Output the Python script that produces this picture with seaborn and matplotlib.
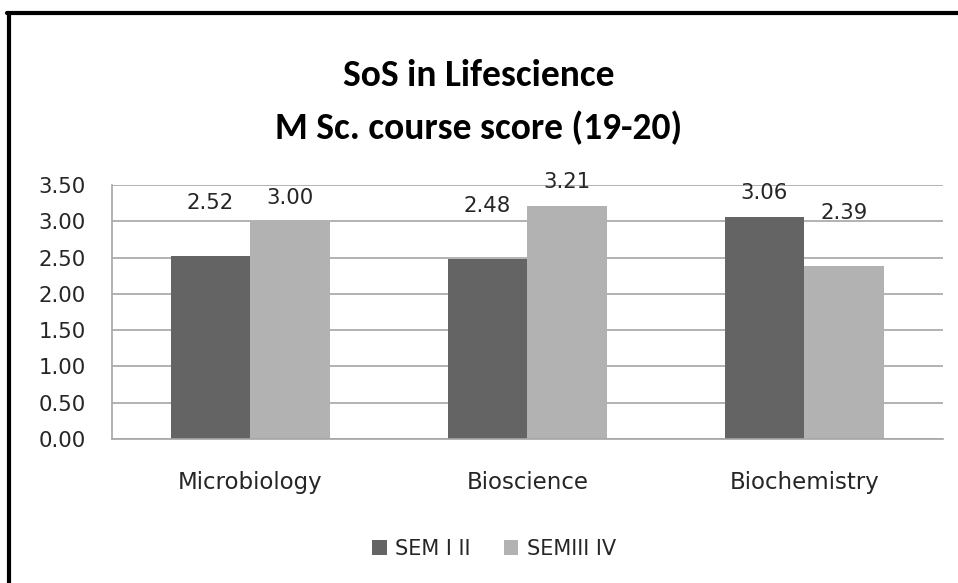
import pandas as pd
import matplotlib.pyplot as plt
from matplotlib.lines import Line2D
import seaborn as sns

# data
courses = ["Microbiology", "Bioscience", "Biochemistry"]
sem_names = ["SEM I II", "SEMIII IV"]
sem_1_2 = [2.52, 2.48, 3.06]
sem_3_4 = [3.00, 3.21, 2.39]
yticks = [0.0, 0.5, 1.0, 1.5, 2.0, 2.5, 3.0, 3.5]

df = pd.DataFrame({
    "Course": courses * 2,
    "Semester": [sem_names[0]] * 3 + [sem_names[1]] * 3,
    "Score": sem_1_2 + sem_3_4,
})

sns.set_style("white")
plt.rcParams["font.family"] = ["DejaVu Sans"]
title_fonts = ["Carlito", "Open Sans Condensed", "Roboto Condensed", "Lato"]
txt = "#262626"

fig = plt.figure(figsize=(9.58, 5.83), dpi=100)
ax = fig.add_axes([112 / 958, 1 - 439 / 583, 831 / 958, 254 / 583])

sns.barplot(data=df, x="Course", y="Score", hue="Semester",
            palette=["#646464", "#b2b2b2"], width=0.577, gap=0,
            saturation=1, linewidth=0, ax=ax, legend=True)

ax.set_ylim(0, 3.5)
ax.set_xlim(-0.5, 2.5)
ax.set_yticks(yticks)
ax.set_yticklabels([f"{t:.2f}" for t in yticks])
ax.yaxis.grid(True, color="#a6a6a6", linewidth=1.2)
ax.set_axisbelow(True)
ax.tick_params(axis="y", length=0, pad=19, labelsize=15.3, labelcolor=txt)
ax.tick_params(axis="x", length=0, pad=23, labelsize=16.5, labelcolor=txt)
ax.set_xlabel("")
ax.set_ylabel("")
for side in ["top", "right"]:
    ax.spines[side].set_visible(False)
for side in ["left", "bottom"]:
    ax.spines[side].set_color("#a6a6a6")
    ax.spines[side].set_linewidth(1.2)

# value labels (the lower bar of each pair has its label set higher)
for i, cont in enumerate(ax.containers):
    vals = sem_1_2 if i == 0 else sem_3_4
    others = sem_3_4 if i == 0 else sem_1_2
    for j, bar in enumerate(cont):
        off = 38 if vals[j] < others[j] else 17
        ax.annotate(f"{vals[j]:.2f}", (bar.get_x() + bar.get_width() / 2, bar.get_height()),
                    xytext=(0, off), textcoords="offset points",
                    ha="center", va="center", fontsize=15.3, color=txt)

ax.legend(loc="center", bbox_to_anchor=(494 / 958, 1 - 549 / 583),
          bbox_transform=fig.transFigure, ncol=2, frameon=False,
          fontsize=15, handlelength=0.7, handleheight=0.7,
          handletextpad=0.4, columnspacing=1.6, labelcolor=txt)

for ypx, line in [(75, "SoS in Lifescience"), (128, "M Sc. course score (19-20)")]:
    fig.text(0.5, 1 - ypx / 583, line, ha="center", va="center",
             fontsize=27, fontweight="bold", color="black", family=title_fonts)

# thick frame on top and left edges
fig.add_artist(Line2D([7 / 958, 1], [1 - 13 / 583] * 2, color="black", linewidth=3,
                      transform=fig.transFigure))
fig.add_artist(Line2D([9 / 958] * 2, [0, 1 - 13 / 583], color="black", linewidth=3,
                      transform=fig.transFigure))

fig.savefig("out.png", dpi=100)
